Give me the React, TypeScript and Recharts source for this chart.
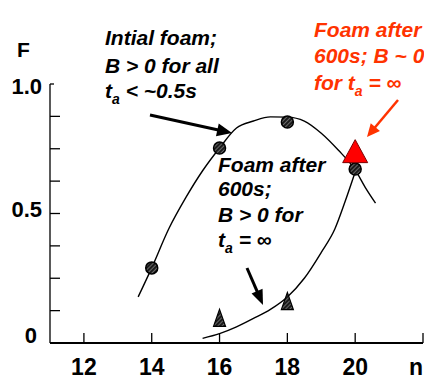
import React from 'react';
import { ComposedChart, Line, Scatter, XAxis, YAxis } from 'recharts';

// ---- data ----
const initialN = [14, 16, 18, 20];
const initialF = [0.29, 0.753, 0.853, 0.672];
const agedN = [16, 18];
const agedF = [0.095, 0.16];
const aged600N = [20];
const aged600F = [0.735];
const fitInitialN = [13.6, 14, 14.5, 15, 15.5, 16, 16.5, 17, 17.5, 18, 18.5, 19, 19.5, 20, 20.3, 20.6];
const fitInitialF = [0.178, 0.29, 0.44, 0.56, 0.665, 0.753, 0.83, 0.857, 0.873, 0.872, 0.857, 0.81, 0.745, 0.668, 0.6, 0.54];
const fitAgedN = [15.5, 16, 16.5, 17, 17.5, 18, 18.5, 19, 19.4, 19.7, 20];
const fitAgedF = [0.018, 0.036, 0.062, 0.095, 0.13, 0.178, 0.25, 0.35, 0.44, 0.545, 0.66];
const xTicks = [12, 14, 16, 18, 20, 22];
const xTickLabels = ['12', '14', '16', '18', '20', 'n'];
const yTicks = [0, 0.125, 0.25, 0.375, 0.5, 0.625, 0.75, 0.875, 1];
const yTickLabels: Record<string, string> = { '0': '0', '0.5': '0.5', '1': '1.0' };

const zip = (xs: number[], ys: number[]) => xs.map((n, i) => ({ n, F: ys[i] }));
const initialData = zip(initialN, initialF);
const agedData = zip(agedN, agedF);
const aged600Data = zip(aged600N, aged600F);
const fitInitialData = zip(fitInitialN, fitInitialF);
const fitAgedData = zip(fitAgedN, fitAgedF);

const FONT = '"Liberation Sans", Arial, sans-serif';
const AXIS_X = 50;
const AXIS_Y = 343;

const YTick = (props: any) => {
  const { y, payload } = props;
  const v = payload.value;
  const label = yTickLabels[String(v)];
  const dy = v === 1 ? 10 : v === 0.5 ? 3.5 : 0;
  const right = v === 0 ? 37 : 42;
  return (
    <g>
      <line x1={AXIS_X} x2={v === 1 ? AXIS_X + 4 : AXIS_X + 10} y1={y} y2={y} stroke="#000" strokeWidth={1.3} />
      {label && (
        <text x={right} y={y + dy} textAnchor="end" fontFamily={FONT} fontWeight="bold" fontSize={22} fill="#000">
          {label}
        </text>
      )}
    </g>
  );
};

const XTick = (props: any) => {
  const { x, payload, index } = props;
  const label = xTickLabels[index] ?? String(payload.value);
  const isLast = label === 'n';
  return (
    <g>
      <line x1={x} x2={x} y1={AXIS_Y} y2={AXIS_Y - 10} stroke="#000" strokeWidth={1.3} />
      <text x={x} y={AXIS_Y + 32} textAnchor={isLast ? 'end' : 'middle'} fontFamily={FONT} fontWeight="bold" fontSize={23} fill="#000">
        {label}
      </text>
    </g>
  );
};

const CircleShape = (props: any) => {
  const { cx, cy } = props;
  return <circle cx={cx} cy={cy} r={6} fill="url(#hatchDark)" stroke="#000" strokeWidth={1.5} />;
};

const HatchTriangle = (props: any) => {
  const { cx, cy } = props;
  return (
    <polygon
      points={`${cx},${cy - 9} ${cx + 6},${cy + 8} ${cx - 6},${cy + 8}`}
      fill="url(#hatchDark)"
      stroke="#000"
      strokeWidth={1.2}
    />
  );
};

const RedTriangle = (props: any) => {
  const { cx, cy } = props;
  return (
    <polygon
      points={`${cx},${cy - 13} ${cx + 12.5},${cy + 10} ${cx - 12.5},${cy + 10}`}
      fill="#FF0000"
      stroke="#7a0000"
      strokeWidth={1}
    />
  );
};

const Arrow = ({ x1, y1, x2, y2, color, w, hl, hw }: any) => {
  const dx = x2 - x1;
  const dy = y2 - y1;
  const L = Math.hypot(dx, dy);
  const ux = dx / L;
  const uy = dy / L;
  const bx = x2 - ux * hl;
  const by = y2 - uy * hl;
  const px = -uy;
  const py = ux;
  return (
    <g>
      <line x1={x1} y1={y1} x2={bx + ux * 1} y2={by + uy * 1} stroke={color} strokeWidth={w} />
      <polygon
        points={`${x2},${y2} ${bx + (px * hw) / 2},${by + (py * hw) / 2} ${bx - (px * hw) / 2},${by - (py * hw) / 2}`}
        fill={color}
      />
    </g>
  );
};

const RED = '#FF3300';

const Annotations = () => {
  const t = { fontFamily: FONT, fontWeight: 'bold' as const, fontStyle: 'italic' as const, fontSize: 21 };
  return (
    <svg width={424} height={379} style={{ position: 'absolute', left: 0, top: 0, pointerEvents: 'none' }}>
      <text x={17} y={57} fontFamily={FONT} fontWeight="bold" fontSize={21} fill="#000">F</text>

      <text x={105} y={45} {...t} fill="#000">Intial foam;</text>
      <text x={105} y={73} {...t} fill="#000">B &gt; 0 for all</text>
      <text x={105} y={98} {...t} fill="#000">
        <tspan>t</tspan>
        <tspan fontSize={14} dy={6}>a</tspan>
        <tspan dy={-6}>{' < ~0.5s'}</tspan>
      </text>

      <text x={218} y={172} {...t} fill="#000">Foam after</text>
      <text x={218} y={196} {...t} fill="#000">600s;</text>
      <text x={218} y={222} {...t} fill="#000">B &gt; 0 for</text>
      <text x={218} y={247} {...t} fill="#000">
        <tspan>t</tspan>
        <tspan fontSize={14} dy={6}>a</tspan>
        <tspan dy={-6}>{' = ∞'}</tspan>
      </text>

      <text x={314} y={37} {...t} fill={RED}>Foam after</text>
      <text x={314} y={63} {...t} fill={RED}>600s; B ~ 0</text>
      <text x={314} y={90} {...t} fill={RED}>
        <tspan>for t</tspan>
        <tspan fontSize={14} dy={6}>a</tspan>
        <tspan dy={-6}>{' = ∞'}</tspan>
      </text>

      <Arrow x1={150} y1={115} x2={232} y2={133} color="#000" w={3} hl={15} hw={13} />
      <Arrow x1={247} y1={268} x2={263} y2={305} color="#000" w={3} hl={15} hw={12} />
      <Arrow x1={398} y1={100} x2={367} y2={137} color={RED} w={2.5} hl={13} hw={12} />
    </svg>
  );
};

export default function App() {
  return (
    <div style={{ position: 'absolute', left: 0, top: 0, width: 424, height: 379, background: '#fff' }}>
      <svg width={0} height={0} style={{ position: 'absolute' }}>
        <defs>
          <pattern id="hatchDark" patternUnits="userSpaceOnUse" width={3} height={3} patternTransform="rotate(45)">
            <rect width={3} height={3} fill="#1a1a1a" />
            <line x1={0} y1={0} x2={0} y2={3} stroke="#c8c8c8" strokeWidth={0.9} />
          </pattern>
        </defs>
      </svg>
      <ComposedChart width={424} height={379} margin={{ top: 84, right: 1, bottom: 0, left: 0 }}>
        <XAxis
          type="number"
          dataKey="n"
          domain={[11, 22]}
          ticks={xTicks}
          allowDataOverflow
          height={36}
          tickSize={0}
          tickMargin={0}
          axisLine={{ stroke: '#000', strokeWidth: 2 }}
          tickLine={false}
          tick={<XTick />}
          interval={0}
        />
        <YAxis
          type="number"
          dataKey="F"
          domain={[0, 1]}
          ticks={yTicks}
          allowDataOverflow
          width={50}
          tickSize={0}
          tickMargin={0}
          axisLine={{ stroke: '#000', strokeWidth: 1.3 }}
          tickLine={false}
          tick={<YTick />}
          interval={0}
        />
        <Line data={fitInitialData} dataKey="F" type="monotone" stroke="#000" strokeWidth={1.4} dot={false} isAnimationActive={false} />
        <Line data={fitAgedData} dataKey="F" type="monotone" stroke="#000" strokeWidth={1.4} dot={false} isAnimationActive={false} />
        <Scatter data={initialData} dataKey="F" shape={<CircleShape />} isAnimationActive={false} />
        <Scatter data={agedData} dataKey="F" shape={<HatchTriangle />} isAnimationActive={false} />
        <Scatter data={aged600Data} dataKey="F" shape={<RedTriangle />} isAnimationActive={false} />
      </ComposedChart>
      <Annotations />
    </div>
  );
}
